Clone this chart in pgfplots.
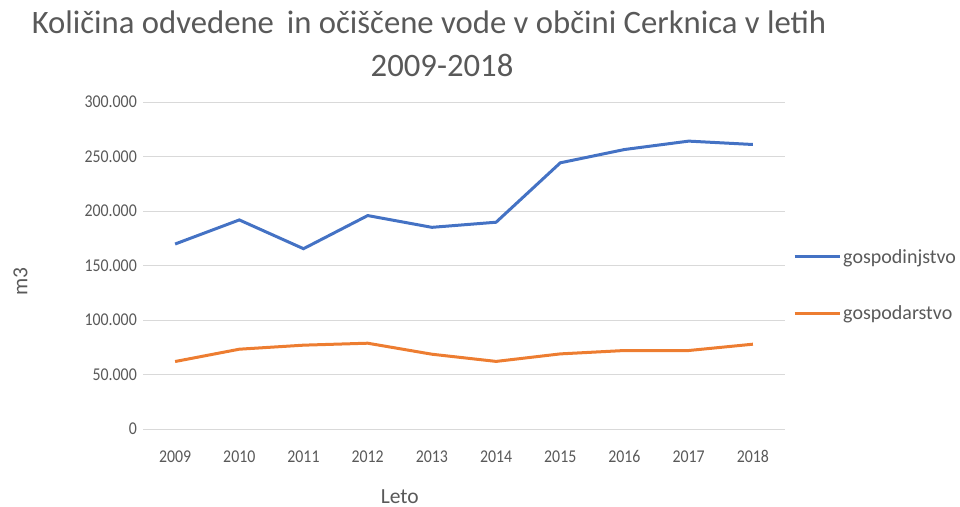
\documentclass[border=0pt]{standalone}
\usepackage{pgfplots}
\pgfplotsset{compat=1.18}
\usepackage{fontspec}
\setmainfont{Carlito}
\newfontfamily\tickfont{Carlito}[FakeStretch=0.88]
\definecolor{txt}{HTML}{595959}
\definecolor{gridc}{HTML}{D9D9D9}
\definecolor{sblue}{HTML}{4472C4}
\definecolor{sorange}{HTML}{ED7D31}
\begin{document}
\begin{tikzpicture}[x=1bp,y=1bp]
\path[use as bounding box] (0,0) rectangle (960,507);
\node[txt,anchor=base,font=\fontsize{32.7bp}{36bp}\selectfont] at (429,473) {Količina odvedene\, in očiščene vode v občini Cerknica v letih};
\node[txt,anchor=base,font=\fontsize{32.7bp}{36bp}\selectfont] at (442,430) {2009-2018};
\begin{axis}[
  at={(143bp,78bp)}, anchor=south west,
  scale only axis, width=642bp, height=327bp,
  xmin=2008.5, xmax=2018.5, ymin=0, ymax=300000,
  xtick={2009,...,2018}, ytick={0,50000,...,300000},
  scaled y ticks=false,
  /pgf/number format/.cd, fixed, 1000 sep={.}, assume math mode=true,
  /pgfplots/.cd,
  xticklabel={\pgfmathprintnumber[1000 sep=]{\tick}},
  axis line style={draw=none},
  major tick length=0pt,
  ymajorgrids, grid style={color=gridc, line width=0.9bp},
  tick label style={font=\tickfont\fontsize{18bp}{20bp}\selectfont, color=txt},
  yticklabel style={inner sep=0pt, xshift=-6bp},
  xticklabel style={inner sep=0pt, anchor=base, yshift=-34bp},
  xlabel={Leto}, ylabel={m3},
  label style={font=\fontsize{21.5bp}{24bp}\selectfont, color=txt},
  xlabel style={at={(axis description cs:0.400,-0.207)}, anchor=center, inner sep=0pt},
  ylabel style={at={(axis description cs:-0.191,0.45)}, anchor=center, inner sep=0pt},
  legend style={draw=none, fill=none, at={(axis description cs:1.0125,0.523)}, anchor=north west,
    font=\fontsize{20bp}{22bp}\selectfont, text=txt, row sep=37bp, inner sep=0pt, yshift=11bp},
  legend cell align=left,
  legend image code/.code={\draw[#1] (0bp,0bp) -- (45bp,0bp);},
]
\addplot[sblue, line width=3bp] coordinates {
(2009,169700) (2010,191800) (2011,165400) (2012,195800) (2013,185000)
(2014,189700) (2015,244200) (2016,256400) (2017,264100) (2018,261000)};
\addlegendentry{gospodinjstvo}
\addplot[sorange, line width=3bp] coordinates {
(2009,61900) (2010,73200) (2011,76900) (2012,78700) (2013,68600)
(2014,62000) (2015,68900) (2016,72000) (2017,72000) (2018,77800)};
\addlegendentry{gospodarstvo}
\end{axis}
\end{tikzpicture}
\end{document}
